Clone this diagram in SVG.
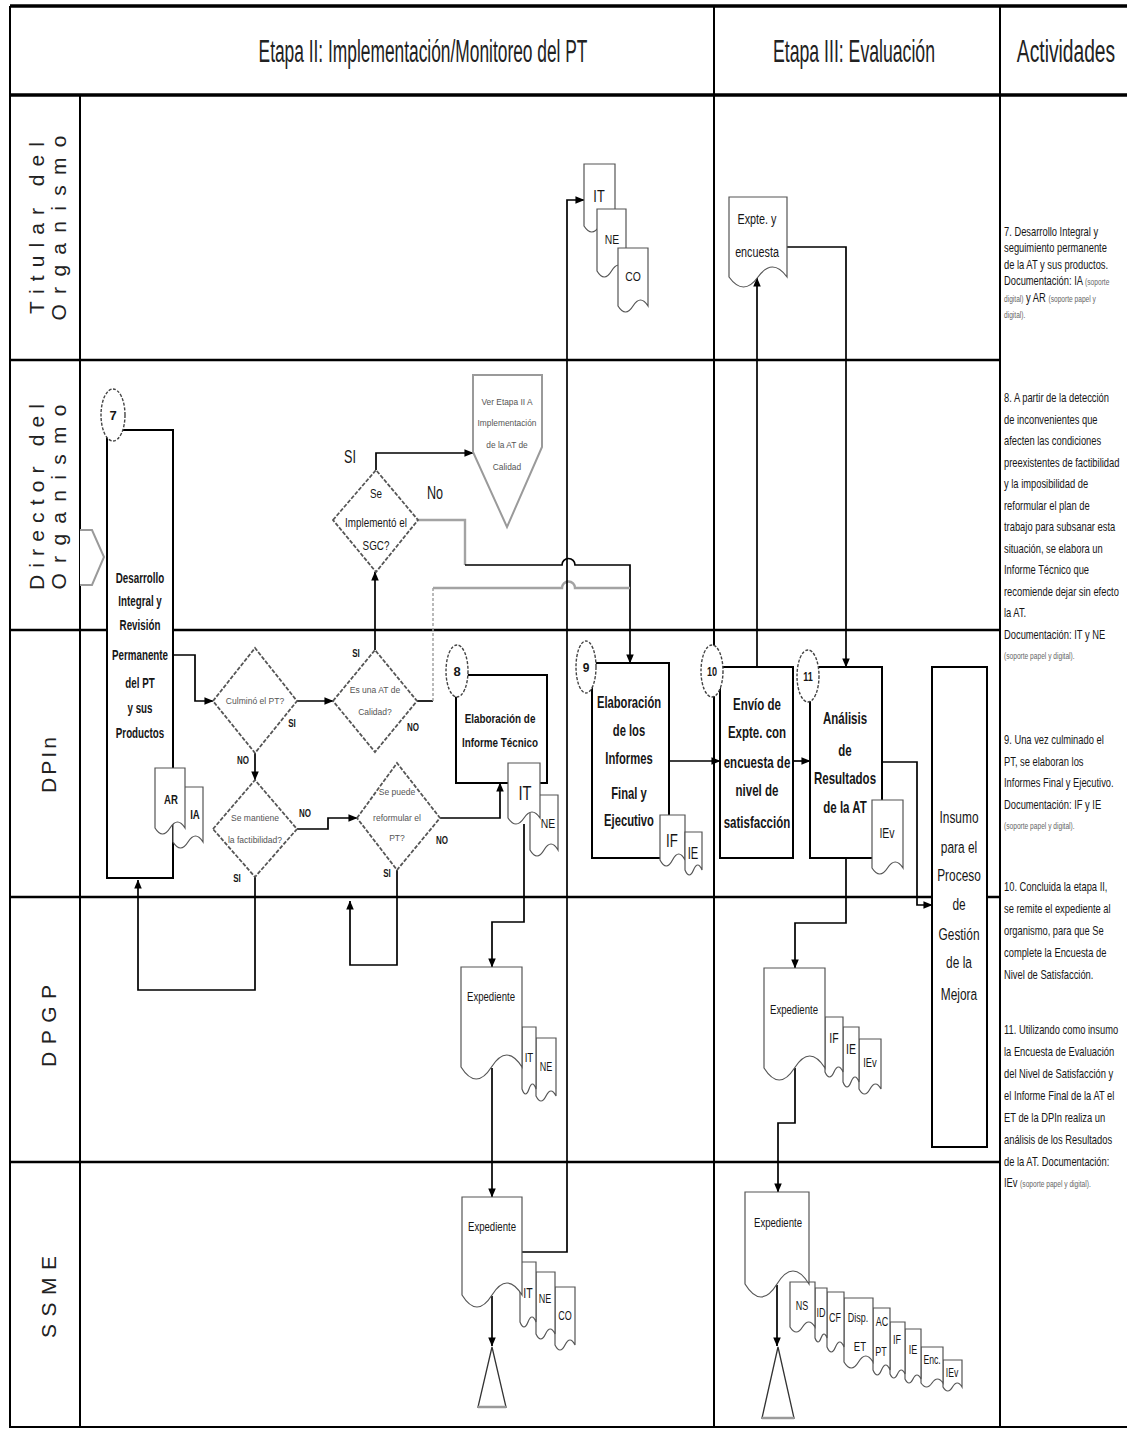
<svg xmlns="http://www.w3.org/2000/svg" width="1127" height="1432" viewBox="0 0 1127 1432">
<defs>
<marker id="ah" viewBox="0 0 10 10" refX="9.5" refY="5" markerWidth="9" markerHeight="9" markerUnits="userSpaceOnUse" orient="auto"><path d="M0,0.8 L10,5 L0,9.2 Z" fill="#000"/></marker>
<style>
.frame{stroke:#000;fill:none;stroke-width:2}
.heavy{stroke:#000;fill:none;stroke-width:3.5}
.lane{stroke:#000;fill:none;stroke-width:2.5}
.c{stroke:#000;fill:none;stroke-width:1.7}
.g{stroke:#a3a3a3;fill:none;stroke-width:2.4}
.gd{stroke:#a3a3a3;fill:none;stroke-width:1.5;stroke-dasharray:3 2}
.box{fill:#fff;stroke:#000;stroke-width:2}
.oval{fill:#fff;stroke:#444;stroke-width:1.4;stroke-dasharray:3 1.6}
.dia{fill:#fff;stroke:#555;stroke-width:1.8;stroke-dasharray:4 1.6}
.doc{fill:#fff;stroke:#555;stroke-width:1.2}
.off{fill:#fff;stroke:#9a9a9a;stroke-width:2}
.tri{fill:#fff;stroke:#333;stroke-width:1.3}
text{font-family:"Liberation Sans",Arial,sans-serif;fill:#161616}
.m{text-anchor:middle}
.hd{font-size:31px;fill:#222}
.lt{font-size:21px;fill:#222}
.b{font-weight:bold}
.s9{font-size:9.5px;fill:#555}
.act{font-size:12px}
.sm{font-size:8.5px;fill:#666}
</style>
</defs>

<!-- frame, header band and swimlane rules -->
<g id="lanes">
  <line class="heavy" x1="10" y1="6" x2="1127" y2="6"/>
  <line class="heavy" x1="10" y1="95" x2="1127" y2="95"/>
  <line class="frame" x1="10" y1="6" x2="10" y2="1428"/>
  <line class="frame" x1="10" y1="1427" x2="1127" y2="1427"/>
  <line class="frame" x1="80" y1="95" x2="80" y2="1428" stroke-width="1.5"/>
  <line class="frame" x1="714" y1="6" x2="714" y2="1428" stroke-width="1.5"/>
  <line class="frame" x1="1000" y1="6" x2="1000" y2="1428"/>
  <line class="lane" x1="10" y1="360" x2="1000" y2="360"/>
  <line class="lane" x1="10" y1="630" x2="1000" y2="630"/>
  <line class="lane" x1="10" y1="897" x2="1000" y2="897"/>
  <line class="lane" x1="10" y1="1162" x2="1000" y2="1162"/>
</g>

<g id="headers">
  <text class="hd m" transform="translate(423,62) scale(.56,1)">Etapa II: Implementación/Monitoreo del PT</text>
  <text class="hd m" transform="translate(854,62) scale(.57,1)">Etapa III: Evaluación</text>
  <text class="hd m" transform="translate(1066,62) scale(.62,1)">Actividades</text>
  <text class="lt m" transform="translate(44,228) rotate(-90)" textLength="172" lengthAdjust="spacing">Titular del</text>
  <text class="lt m" transform="translate(66,228) rotate(-90)" textLength="185" lengthAdjust="spacing">Organismo</text>
  <text class="lt m" transform="translate(44,497) rotate(-90)" textLength="186" lengthAdjust="spacing">Director del</text>
  <text class="lt m" transform="translate(66,497) rotate(-90)" textLength="185" lengthAdjust="spacing">Organismo</text>
  <text class="lt m" transform="translate(56,765) rotate(-90)" textLength="56" lengthAdjust="spacing">DPIn</text>
  <text class="lt m" transform="translate(56,1026) rotate(-90)" textLength="82" lengthAdjust="spacing">DPGP</text>
  <text class="lt m" transform="translate(56,1297) rotate(-90)" textLength="82" lengthAdjust="spacing">SSME</text>
</g>

<g id="connectors">
  <path class="c" d="M173,655 H195 V701 H213" marker-end="url(#ah)"/>
  <path class="c" d="M297,701 H333" marker-end="url(#ah)"/>
  <path class="c" d="M255,753 V780" marker-end="url(#ah)"/>
  <path class="c" d="M375,650 V572" marker-end="url(#ah)"/>
  <path class="c" d="M376,470 V453 H473" marker-end="url(#ah)"/>
  <path class="g" d="M418,520 H465 V565"/>
  <path class="c" d="M465,565 H562 A6.5,6.5 0 0 1 575,565 H630 V663" marker-end="url(#ah)"/>
  <path class="c" d="M417,701 H433"/>
  <path class="gd" d="M433,701 V588"/>
  <path class="g" d="M433,588 H562 A6.5,6.5 0 0 1 575,588 H630"/>
  <path class="c" d="M297,829 H328 V818 H357" marker-end="url(#ah)"/>
  <path class="c" d="M255,877 V990 H138 V880" marker-end="url(#ah)"/>
  <path class="c" d="M440,818 H500 V783" marker-end="url(#ah)"/>
  <path class="c" d="M397,870 V965 H350 V901" marker-end="url(#ah)"/>
  <path class="c" d="M669,761 H720" marker-end="url(#ah)"/>
  <path class="c" d="M793,761 H810" marker-end="url(#ah)"/>
  <path class="c" d="M757,667 V278" marker-end="url(#ah)"/>
  <path class="c" d="M787,247 H846 V667" marker-end="url(#ah)"/>
  <path class="c" d="M882,762 H917 V905 H932" marker-end="url(#ah)"/>
  <path class="c" d="M846,858 V923 H795 V968" marker-end="url(#ah)"/>
  <path class="c" d="M524,824 V922 H492 V967" marker-end="url(#ah)"/>
  <path class="c" d="M492,1068 V1197" marker-end="url(#ah)"/>
  <path class="c" d="M522,1252 H567 V200 H584" marker-end="url(#ah)"/>
  <path class="c" d="M492,1296 V1346" marker-end="url(#ah)"/>
  <path class="c" d="M795,1068 V1123 H778 V1192" marker-end="url(#ah)"/>
  <path class="c" d="M777,1285 V1346" marker-end="url(#ah)"/>
</g>

<g id="n-entrada">
  <polyline class="off" fill="none" points="80,530 92,530 104,557 92,585 80,585"/>
</g>

<g id="n-7">
  <rect class="box" x="107" y="430" width="66" height="448"/>
  <ellipse class="oval" cx="113" cy="415" rx="12" ry="26"/>
  <text class="m b" font-size="13" x="113" y="420">7</text>
  <g class="m b" font-size="14">
    <text transform="translate(140,583) scale(.7,1)">Desarrollo</text>
    <text transform="translate(140,606) scale(.7,1)">Integral y</text>
    <text transform="translate(140,630) scale(.7,1)">Revisión</text>
    <text transform="translate(140,660) scale(.7,1)">Permanente</text>
    <text transform="translate(140,688) scale(.7,1)">del PT</text>
    <text transform="translate(140,713) scale(.7,1)">y sus</text>
    <text transform="translate(140,738) scale(.7,1)">Productos</text>
  </g>
  <path class="doc" d="M173,787 H203 V842 Q195.5,830 188,842 Q180.5,854 173,842 Z"/>
  <path class="doc" d="M155,768 H185 V828 Q177.5,816 170,828 Q162.5,840 155,828 Z"/>
  <text class="m b" font-size="12" transform="translate(171,804) scale(.8,1)">AR</text>
  <text class="m b" font-size="12" transform="translate(195,819) scale(.8,1)">IA</text>
</g>

<g id="n-culmino">
  <polygon class="dia" points="213,701 255,648 297,701 255,753"/>
  <text class="m s9" transform="translate(255,704) scale(.9,1)">Culminó el PT?</text>
  <text class="m b" font-size="10" transform="translate(292,727) scale(.8,1)">SI</text>
  <text class="m b" font-size="10" transform="translate(243,764) scale(.8,1)">NO</text>
</g>

<g id="n-calidad">
  <polygon class="dia" points="333,701 375,650 417,701 375,752"/>
  <text class="m s9" transform="translate(375,693) scale(.9,1)">Es una AT de</text>
  <text class="m s9" transform="translate(375,715) scale(.9,1)">Calidad?</text>
  <text class="m b" font-size="10" transform="translate(356,657) scale(.8,1)">SI</text>
  <text class="m b" font-size="10" transform="translate(413,731) scale(.8,1)">NO</text>
</g>

<g id="n-factibilidad">
  <polygon class="dia" points="213,829 255,780 297,829 255,877"/>
  <text class="m s9" transform="translate(255,821) scale(.9,1)">Se mantiene</text>
  <text class="m s9" transform="translate(255,843) scale(.9,1)">la factibilidad?</text>
  <text class="m b" font-size="10" transform="translate(305,817) scale(.8,1)">NO</text>
  <text class="m b" font-size="10" transform="translate(237,882) scale(.8,1)">SI</text>
</g>

<g id="n-reformular">
  <polygon class="dia" points="357,818 397,763 440,818 397,870"/>
  <text class="m s9" transform="translate(397,795) scale(.9,1)">Se puede</text>
  <text class="m s9" transform="translate(397,821) scale(.9,1)">reformular el</text>
  <text class="m s9" transform="translate(397,841) scale(.9,1)">PT?</text>
  <text class="m b" font-size="10" transform="translate(442,844) scale(.8,1)">NO</text>
  <text class="m b" font-size="10" transform="translate(387,877) scale(.8,1)">SI</text>
</g>

<g id="n-sgc">
  <polygon class="dia" points="333,520 376,470 418,520 376,572"/>
  <text class="m" font-size="12" fill="#333" transform="translate(376,498) scale(.82,1)">Se</text>
  <text class="m" font-size="12" fill="#333" transform="translate(376,527) scale(.82,1)">Implementó el</text>
  <text class="m" font-size="12" fill="#333" transform="translate(376,550) scale(.82,1)">SGC?</text>
  <text class="m" font-size="18" transform="translate(350,463) scale(.7,1)">SI</text>
  <text class="m" font-size="18" transform="translate(435,499) scale(.7,1)">No</text>
</g>

<g id="n-ver-etapa">
  <path class="off" d="M473,375 H542 V447 L507,527 L473,452 Z"/>
  <text class="m s9" transform="translate(507,405) scale(.88,1)">Ver Etapa II A</text>
  <text class="m s9" transform="translate(507,426) scale(.88,1)">Implementación</text>
  <text class="m s9" transform="translate(507,448) scale(.88,1)">de la AT de</text>
  <text class="m s9" transform="translate(507,470) scale(.88,1)">Calidad</text>
</g>

<g id="n-8">
  <rect class="box" x="456" y="675" width="91" height="108"/>
  <ellipse class="oval" cx="457" cy="671" rx="11" ry="26"/>
  <text class="m b" font-size="13" x="457" y="676">8</text>
  <text class="m b" font-size="13" transform="translate(500,723) scale(.76,1)">Elaboración de</text>
  <text class="m b" font-size="13" transform="translate(500,747) scale(.76,1)">Informe Técnico</text>
  <path class="doc" d="M530,795 H558 V850 Q551,838 544,850 Q537,862 530,850 Z"/>
  <path class="doc" d="M508,763 H540 V818 Q532,806 524,818 Q516,830 508,818 Z"/>
  <text class="m" font-size="21" transform="translate(525,800) scale(.7,1)">IT</text>
  <text class="m" font-size="13" transform="translate(548,828) scale(.8,1)">NE</text>
</g>

<g id="n-9">
  <rect class="box" x="592" y="663" width="77" height="195"/>
  <ellipse class="oval" cx="586" cy="667" rx="10" ry="26"/>
  <text class="m b" font-size="12" x="586" y="672">9</text>
  <g class="m b" font-size="17">
    <text transform="translate(629,708) scale(.66,1)">Elaboración</text>
    <text transform="translate(629,736) scale(.66,1)">de los</text>
    <text transform="translate(629,764) scale(.66,1)">Informes</text>
    <text transform="translate(629,799) scale(.66,1)">Final y</text>
    <text transform="translate(629,826) scale(.66,1)">Ejecutivo</text>
  </g>
  <path class="doc" d="M660,815 H685 V860 Q678.75,848 672.5,860 Q666.25,872 660,860 Z"/>
  <path class="doc" d="M685,832 H702 V870 Q697.75,860 693.5,870 Q689.25,880 685,870 Z"/>
  <text class="m" font-size="19" transform="translate(672,847) scale(.7,1)">IF</text>
  <text class="m" font-size="16" transform="translate(693,859) scale(.7,1)">IE</text>
</g>

<g id="n-10">
  <rect class="box" x="720" y="667" width="73" height="191"/>
  <ellipse class="oval" cx="712" cy="671" rx="11" ry="26"/>
  <text class="m b" font-size="13" transform="translate(712,676) scale(.7,1)">10</text>
  <g class="m b" font-size="16">
    <text transform="translate(757,710) scale(.72,1)">Envío de</text>
    <text transform="translate(757,738) scale(.72,1)">Expte. con</text>
    <text transform="translate(757,768) scale(.72,1)">encuesta de</text>
    <text transform="translate(757,796) scale(.72,1)">nivel de</text>
    <text transform="translate(757,828) scale(.72,1)">satisfacción</text>
  </g>
</g>

<g id="n-11">
  <rect class="box" x="810" y="667" width="72" height="191"/>
  <ellipse class="oval" cx="808" cy="676" rx="11" ry="26"/>
  <text class="m b" font-size="13" transform="translate(808,681) scale(.7,1)">11</text>
  <g class="m b" font-size="16">
    <text transform="translate(845,724) scale(.72,1)">Análisis</text>
    <text transform="translate(845,756) scale(.72,1)">de</text>
    <text transform="translate(845,784) scale(.72,1)">Resultados</text>
    <text transform="translate(845,813) scale(.72,1)">de la AT</text>
  </g>
  <path class="doc" d="M872,800 H903 V868 Q895.25,856 887.5,868 Q879.75,880 872,868 Z"/>
  <text class="m" font-size="14" transform="translate(887,838) scale(.75,1)">IEv</text>
</g>

<g id="n-insumo">
  <rect class="box" x="932" y="667" width="55" height="480"/>
  <g class="m" font-size="17">
    <text transform="translate(959,823) scale(.7,1)">Insumo</text>
    <text transform="translate(959,853) scale(.7,1)">para el</text>
    <text transform="translate(959,881) scale(.7,1)">Proceso</text>
    <text transform="translate(959,910) scale(.7,1)">de</text>
    <text transform="translate(959,940) scale(.7,1)">Gestión</text>
    <text transform="translate(959,968) scale(.7,1)">de la</text>
    <text transform="translate(959,1000) scale(.7,1)">Mejora</text>
  </g>
</g>

<g id="n-titular-docs">
  <path class="doc" d="M584,164 H615 V226 Q607.25,214 599.5,226 Q591.75,238 584,226 Z"/>
  <path class="doc" d="M597,209 H626 V271 Q618.75,259 611.5,271 Q604.25,283 597,271 Z"/>
  <path class="doc" d="M618,248 H648 V306 Q640.5,294 633,306 Q625.5,318 618,306 Z"/>
  <text class="m" font-size="17" transform="translate(599,202) scale(.75,1)">IT</text>
  <text class="m" font-size="13" transform="translate(612,244) scale(.8,1)">NE</text>
  <text class="m" font-size="13" transform="translate(633,281) scale(.8,1)">CO</text>
</g>

<g id="n-expte-encuesta">
  <path class="doc" d="M729,197 H787 V277 Q772.5,257 758,277 Q743.5,297 729,277 Z"/>
  <text class="m" font-size="15" transform="translate(757,224) scale(.72,1)">Expte. y</text>
  <text class="m" font-size="15" transform="translate(757,257) scale(.72,1)">encuesta</text>
</g>

<g id="n-dpgp-exp1">
  <path class="doc" d="M536,1038 H556 V1096 Q551,1086 546,1096 Q541,1106 536,1096 Z"/>
  <path class="doc" d="M522,1027 H536 V1089 Q532.5,1079 529,1089 Q525.5,1099 522,1089 Z"/>
  <path class="doc" d="M461,967 H522 V1067 Q506.75,1043 491.5,1067 Q476.25,1091 461,1067 Z"/>
  <text class="m" font-size="12" transform="translate(491,1001) scale(.8,1)">Expediente</text>
  <text class="m" font-size="13" transform="translate(529,1062) scale(.75,1)">IT</text>
  <text class="m" font-size="12" transform="translate(546,1071) scale(.75,1)">NE</text>
</g>

<g id="n-dpgp-exp2">
  <path class="doc" d="M859,1039 H881 V1089 Q875.5,1079 870,1089 Q864.5,1099 859,1089 Z"/>
  <path class="doc" d="M843,1027 H859 V1082 Q855,1072 851,1082 Q847,1092 843,1082 Z"/>
  <path class="doc" d="M825,1017 H843 V1072 Q838.5,1062 834,1072 Q829.5,1082 825,1072 Z"/>
  <path class="doc" d="M764,968 H825 V1068 Q809.75,1044 794.5,1068 Q779.25,1092 764,1068 Z"/>
  <text class="m" font-size="12" transform="translate(794,1014) scale(.8,1)">Expediente</text>
  <text class="m" font-size="14" transform="translate(834,1043) scale(.75,1)">IF</text>
  <text class="m" font-size="14" transform="translate(851,1054) scale(.75,1)">IE</text>
  <text class="m" font-size="13" transform="translate(870,1067) scale(.72,1)">IEv</text>
</g>

<g id="n-ssme-exp1">
  <path class="doc" d="M555,1287 H575 V1345 Q570,1335 565,1345 Q560,1355 555,1345 Z"/>
  <path class="doc" d="M536,1272 H555 V1334 Q550.25,1324 545.5,1334 Q540.75,1344 536,1334 Z"/>
  <path class="doc" d="M520,1262 H536 V1322 Q532,1312 528,1322 Q524,1332 520,1322 Z"/>
  <path class="doc" d="M462,1197 H522 V1295 Q507,1271 492,1295 Q477,1319 462,1295 Z"/>
  <text class="m" font-size="12" transform="translate(492,1231) scale(.8,1)">Expediente</text>
  <text class="m" font-size="14" transform="translate(528,1298) scale(.75,1)">IT</text>
  <text class="m" font-size="12" transform="translate(545,1303) scale(.75,1)">NE</text>
  <text class="m" font-size="12" transform="translate(565,1320) scale(.75,1)">CO</text>
  <polygon class="tri" points="492,1347 478,1407 506,1407"/>
  <line x1="478" y1="1407" x2="506" y2="1407" stroke="#999" stroke-width="2.5"/>
</g>

<g id="n-ssme-exp2">
  <path class="doc" d="M943,1360 H962 V1387 Q957.25,1379 952.5,1387 Q947.75,1395 943,1387 Z"/>
  <path class="doc" d="M921,1347 H943 V1383 Q937.5,1375 932,1383 Q926.5,1391 921,1383 Z"/>
  <path class="doc" d="M905,1329 H921 V1379 Q917,1371 913,1379 Q909,1387 905,1379 Z"/>
  <path class="doc" d="M890,1322 H905 V1374 Q901.25,1366 897.5,1374 Q893.75,1382 890,1374 Z"/>
  <path class="doc" d="M873,1308 H890 V1370 Q885.75,1360 881.5,1370 Q877.25,1380 873,1370 Z"/>
  <path class="doc" d="M844,1298 H873 V1362 Q865.75,1350 858.5,1362 Q851.25,1374 844,1362 Z"/>
  <path class="doc" d="M827,1292 H844 V1347 Q839.75,1337 835.5,1347 Q831.25,1357 827,1347 Z"/>
  <path class="doc" d="M815,1288 H827 V1338 Q824,1330 821,1338 Q818,1346 815,1338 Z"/>
  <path class="doc" d="M790,1282 H815 V1327 Q808.75,1317 802.5,1327 Q796.25,1337 790,1327 Z"/>
  <path class="doc" d="M745,1192 H809 V1284 Q793,1258 777,1284 Q761,1310 745,1284 Z"/>
  <text class="m" font-size="12" transform="translate(778,1227) scale(.8,1)">Expediente</text>
  <g class="m" font-size="12">
    <text transform="translate(802,1310) scale(.75,1)">NS</text>
    <text transform="translate(821,1317) scale(.75,1)">ID</text>
    <text transform="translate(835,1322) scale(.75,1)">CF</text>
    <text transform="translate(858,1322) scale(.75,1)">Disp.</text>
    <text transform="translate(860,1351) scale(.8,1)">ET</text>
    <text transform="translate(882,1326) scale(.75,1)">AC</text>
    <text transform="translate(881,1356) scale(.75,1)">PT</text>
    <text transform="translate(897,1344) scale(.75,1)">IF</text>
    <text transform="translate(913,1354) scale(.75,1)">IE</text>
    <text transform="translate(932,1364) scale(.72,1)">Enc.</text>
    <text transform="translate(952,1377) scale(.72,1)">IEv</text>
  </g>
  <polygon class="tri" points="778,1347 762,1418 794,1418"/>
  <line x1="762" y1="1418" x2="794" y2="1418" stroke="#999" stroke-width="2.5"/>
</g>

<!-- activity descriptions column -->
<g id="actividades" class="act" transform="translate(1004,0) scale(.78,1)">
  <text x="0" y="236">7. Desarrollo Integral y</text>
  <text x="0" y="252">seguimiento permanente</text>
  <text x="0" y="269">de la AT y sus productos.</text>
  <text x="0" y="285">Documentación: IA <tspan class="sm">(soporte</tspan></text>
  <text x="0" y="302"><tspan class="sm">digital)</tspan> y AR <tspan class="sm">(soporte papel y</tspan></text>
  <text x="0" y="318"><tspan class="sm">digital).</tspan></text>

  <text x="0" y="402">8. A partir de la detección</text>
  <text x="0" y="424">de inconvenientes que</text>
  <text x="0" y="445">afecten las condiciones</text>
  <text x="0" y="467">preexistentes de factibilidad</text>
  <text x="0" y="488">y la imposibilidad de</text>
  <text x="0" y="510">reformular el plan de</text>
  <text x="0" y="531">trabajo para subsanar esta</text>
  <text x="0" y="553">situación,  se elabora un</text>
  <text x="0" y="574">Informe Técnico que</text>
  <text x="0" y="596">recomiende dejar sin efecto</text>
  <text x="0" y="617">la AT.</text>
  <text x="0" y="639">Documentación: IT y NE</text>
  <text x="0" y="659" class="sm">(soporte papel y digital).</text>

  <text x="0" y="744">9. Una vez culminado el</text>
  <text x="0" y="766">PT, se elaboran los</text>
  <text x="0" y="787">Informes Final y Ejecutivo.</text>
  <text x="0" y="809">Documentación: IF y IE</text>
  <text x="0" y="829" class="sm">(soporte papel y digital).</text>

  <text x="0" y="891">10. Concluida la etapa II,</text>
  <text x="0" y="913">se remite el expediente al</text>
  <text x="0" y="935">organismo, para que Se</text>
  <text x="0" y="957">complete la Encuesta de</text>
  <text x="0" y="979">Nivel de Satisfacción.</text>

  <text x="0" y="1034">11. Utilizando como insumo</text>
  <text x="0" y="1056">la Encuesta de Evaluación</text>
  <text x="0" y="1078">del Nivel de Satisfacción y</text>
  <text x="0" y="1100">el Informe Final de la AT el</text>
  <text x="0" y="1122">ET de la DPIn realiza un</text>
  <text x="0" y="1144">análisis de los Resultados</text>
  <text x="0" y="1166">de la AT. Documentación:</text>
  <text x="0" y="1187">IEv <tspan class="sm">(soporte papel y digital).</tspan></text>
</g>
</svg>
